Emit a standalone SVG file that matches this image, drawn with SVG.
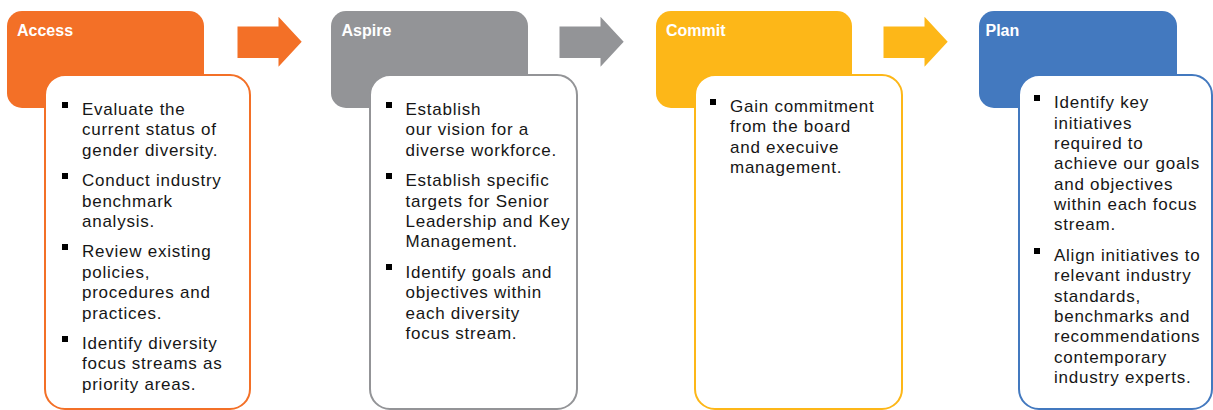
<svg xmlns="http://www.w3.org/2000/svg" width="1213" height="410" viewBox="0 0 1213 410">
<style>
.hdr{font-family:"Liberation Sans",Arial,sans-serif;font-weight:bold;font-size:16px;fill:#ffffff}
.txt{font-family:"Liberation Sans",Arial,sans-serif;font-size:17px;letter-spacing:0.75px;fill:#161616}
.body{fill:#ffffff;stroke-width:2}
.bul{fill:#000000}
</style>
<rect width="1213" height="410" fill="#ffffff"/>
<g id="connectors">
<path d="M237.5,26.5 H278.5 V16.7 L301.7,41.7 L278.5,66.7 V58 H237.5 Z" fill="#F37027"/>
<path d="M559.5,26.5 H600.5 V16.7 L623.7,41.7 L600.5,66.7 V58 H559.5 Z" fill="#939497"/>
<path d="M883.5,26.5 H924.5 V16.7 L947.7,41.7 L924.5,66.7 V58 H883.5 Z" fill="#FDB718"/>
</g>
<g id="access">
<rect x="7" y="11" width="197" height="97" rx="15" fill="#F37027"/>
<text class="hdr" x="17" y="36">Access</text>
<rect class="body" x="45" y="75" width="205" height="334" rx="20" stroke="#F37027"/>
<rect class="bul" x="62" y="102" width="6" height="6"/>
<rect class="bul" x="62" y="173" width="6" height="6"/>
<rect class="bul" x="62" y="244" width="6" height="6"/>
<rect class="bul" x="62" y="336" width="6" height="6"/>
<text class="txt"><tspan x="82" y="115">Evaluate the</tspan><tspan x="82" y="135.4">current status of</tspan><tspan x="82" y="155.8">gender diversity.</tspan><tspan x="82" y="186.2">Conduct industry</tspan><tspan x="82" y="206.6">benchmark</tspan><tspan x="82" y="227">analysis.</tspan><tspan x="82" y="257.4">Review existing</tspan><tspan x="82" y="277.8">policies,</tspan><tspan x="82" y="298.2">procedures and</tspan><tspan x="82" y="318.6">practices.</tspan><tspan x="82" y="349">Identify diversity</tspan><tspan x="82" y="369.4">focus streams as</tspan><tspan x="82" y="389.8">priority areas.</tspan></text>
</g>
<g id="aspire">
<rect x="331" y="11" width="197" height="97" rx="15" fill="#939497"/>
<text class="hdr" x="341.5" y="36">Aspire</text>
<rect class="body" x="370" y="75" width="207" height="334" rx="20" stroke="#939497"/>
<rect class="bul" x="386" y="102" width="6" height="6"/>
<rect class="bul" x="386" y="173" width="6" height="6"/>
<rect class="bul" x="386" y="264" width="6" height="6"/>
<text class="txt"><tspan x="405.5" y="115">Establish</tspan><tspan x="405.5" y="135.4">our vision for a</tspan><tspan x="405.5" y="155.8">diverse workforce.</tspan><tspan x="405.5" y="186.2">Establish specific</tspan><tspan x="405.5" y="206.6">targets for Senior</tspan><tspan x="405.5" y="227">Leadership and Key</tspan><tspan x="405.5" y="247.4">Management.</tspan><tspan x="405.5" y="277.8">Identify goals and</tspan><tspan x="405.5" y="298.2">objectives within</tspan><tspan x="405.5" y="318.6">each diversity</tspan><tspan x="405.5" y="339">focus stream.</tspan></text>
</g>
<g id="commit">
<rect x="656" y="11" width="196" height="97" rx="15" fill="#FDB718"/>
<text class="hdr" x="666" y="36">Commit</text>
<rect class="body" x="695" y="75" width="207" height="334" rx="20" stroke="#FDB718"/>
<rect class="bul" x="710" y="99" width="6" height="6"/>
<text class="txt"><tspan x="730" y="112">Gain commitment</tspan><tspan x="730" y="132.4">from the board</tspan><tspan x="730" y="152.8">and execuive</tspan><tspan x="730" y="173.2">management.</tspan></text>
</g>
<g id="plan">
<rect x="979" y="11" width="198" height="97" rx="15" fill="#4379BF"/>
<text class="hdr" x="985.5" y="36">Plan</text>
<rect class="body" x="1019" y="75" width="193" height="334" rx="20" stroke="#4379BF"/>
<rect class="bul" x="1034" y="95" width="6" height="6"/>
<rect class="bul" x="1034" y="248" width="6" height="6"/>
<text class="txt"><tspan x="1054" y="108.3">Identify key</tspan><tspan x="1054" y="128.6">initiatives</tspan><tspan x="1054" y="149">required to</tspan><tspan x="1054" y="169.3">achieve our goals</tspan><tspan x="1054" y="189.6">and objectives</tspan><tspan x="1054" y="210">within each focus</tspan><tspan x="1054" y="230.3">stream.</tspan><tspan x="1054" y="261">Align initiatives to</tspan><tspan x="1054" y="281.3">relevant industry</tspan><tspan x="1054" y="301.6">standards,</tspan><tspan x="1054" y="322">benchmarks and</tspan><tspan x="1054" y="342.3">recommendations</tspan><tspan x="1054" y="362.6">contemporary</tspan><tspan x="1054" y="383">industry experts.</tspan></text>
</g>
</svg>
